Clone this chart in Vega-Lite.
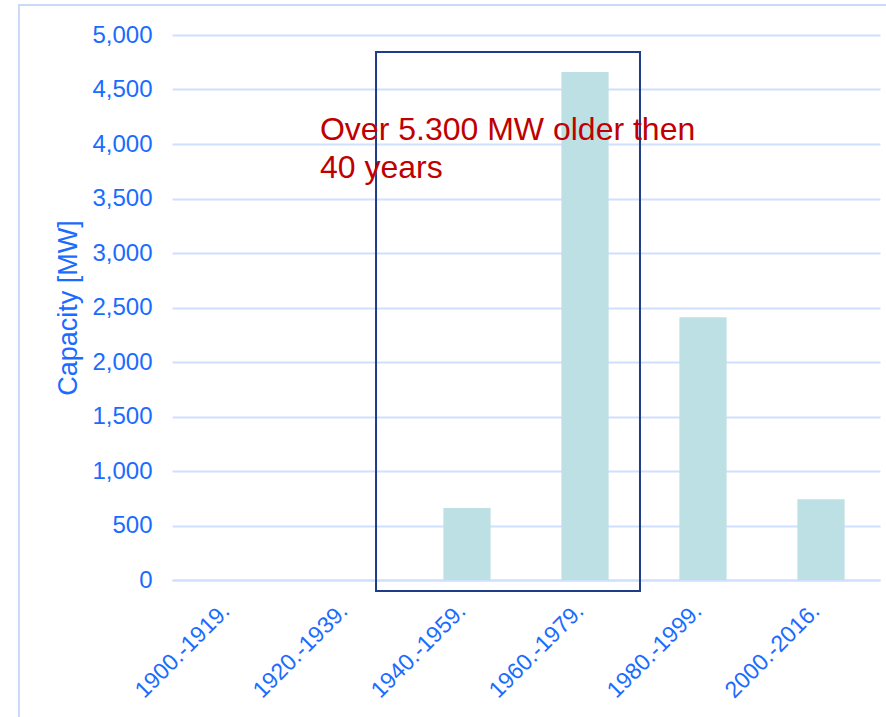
{
  "$schema": "https://vega.github.io/schema/vega-lite/v6.json",
  "width": 708,
  "height": 545,
  "autosize": {"type": "none"},
  "padding": {"left": 172, "top": 35, "right": 6, "bottom": 137},
  "background": "white",
  "config": {
    "view": {"stroke": null},
    "font": "Liberation Sans",
    "axis": {"labelFont": "Liberation Sans", "titleFont": "Liberation Sans", "labelColor": "#1a6bff", "titleColor": "#1a6bff", "titleFontWeight": "normal"},
    "axisY": {"titleFontSize": 27, "titlePadding": 9, "labelFontSize": 24, "ticks": false, "labelPadding": 20, "domain": false, "grid": true, "gridColor": "#cfe0ff", "gridWidth": 2}
  },
  "datasets": {
    "bars": [
      {"period": "1900.-1919.", "capacity": 0},
      {"period": "1920.-1939.", "capacity": 0},
      {"period": "1940.-1959.", "capacity": 660},
      {"period": "1960.-1979.", "capacity": 4660},
      {"period": "1980.-1999.", "capacity": 2410},
      {"period": "2000.-2016.", "capacity": 740}
    ],
    "box": [{"x1": 1.729, "x2": 3.966, "y1": -101, "y2": 4844}],
    "frame": [{"x1": -1.297, "x2": 7.5, "y1": -3000, "y2": 5275}],
    "note": [{"x": 1.254, "y": 4037, "label": "Over 5.300 MW older then\n40 years"}]
  },
  "layer": [
    {
      "data": {"name": "frame"},
      "mark": {"type": "rect", "fill": null, "stroke": "#c9daf8", "strokeWidth": 2},
      "encoding": {
        "x": {"field": "x1", "type": "quantitative", "scale": {"domain": [0, 6], "nice": false, "zero": false}, "axis": null},
        "x2": {"field": "x2"},
        "y": {"field": "y1", "type": "quantitative", "scale": {"domain": [0, 5000], "nice": false},
          "axis": {"title": "Capacity [MW]", "values": [0,500,1000,1500,2000,2500,3000,3500,4000,4500,5000], "format": ",.0f"}},
        "y2": {"field": "y2"}
      }
    },
    {
      "data": {"name": "bars"},
      "mark": {"type": "bar", "color": "#bce0e3"},
      "encoding": {
        "x": {
          "field": "period", "type": "nominal", "sort": null,
          "scale": {"paddingInner": 0.6, "paddingOuter": 0.3},
          "axis": {"title": null, "labelAngle": -45, "labelAlign": "right", "labelBaseline": "alphabetic", "labelFontSize": 23, "ticks": false, "labelPadding": 32, "domain": true, "domainColor": "#cfe0ff", "domainWidth": 2}
        },
        "y": {"field": "capacity", "type": "quantitative",
          "axis": {"title": "Capacity [MW]", "values": [0,500,1000,1500,2000,2500,3000,3500,4000,4500,5000], "format": ",.0f"}}
      }
    },
    {
      "data": {"name": "box"},
      "mark": {"type": "rect", "fill": null, "stroke": "#1f3c88", "strokeWidth": 2},
      "encoding": {
        "x": {"field": "x1", "type": "quantitative", "scale": {"domain": [0, 6], "nice": false, "zero": false}, "axis": null},
        "x2": {"field": "x2"},
        "y": {"field": "y1", "type": "quantitative",
          "axis": {"title": "Capacity [MW]", "values": [0,500,1000,1500,2000,2500,3000,3500,4000,4500,5000], "format": ",.0f"}},
        "y2": {"field": "y2"}
      }
    },
    {
      "data": {"name": "note"},
      "mark": {"type": "text", "align": "left", "baseline": "alphabetic", "fontSize": 32, "color": "#c00000", "lineBreak": "\n", "lineHeight": 38, "font": "Liberation Sans"},
      "encoding": {
        "x": {"field": "x", "type": "quantitative", "scale": {"domain": [0, 6], "nice": false, "zero": false}, "axis": null},
        "y": {"field": "y", "type": "quantitative",
          "axis": {"title": "Capacity [MW]", "values": [0,500,1000,1500,2000,2500,3000,3500,4000,4500,5000], "format": ",.0f"}},
        "text": {"field": "label"}
      }
    }
  ],
  "resolve": {"scale": {"x": "independent"}, "axis": {"x": "independent"}}
}
